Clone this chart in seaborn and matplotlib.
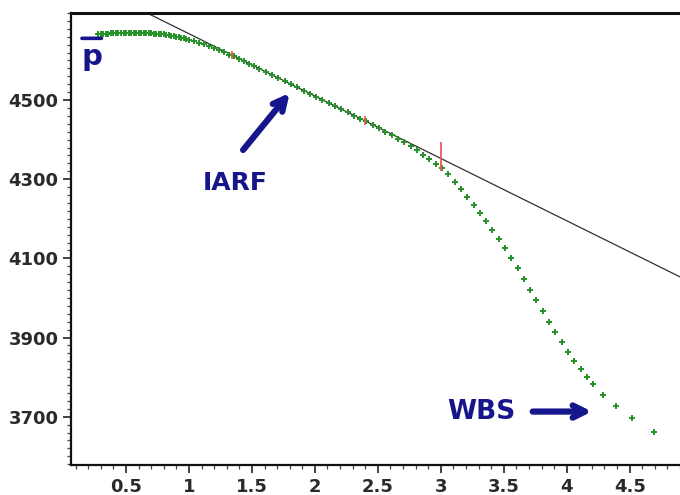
import matplotlib
matplotlib.use("Agg")
import matplotlib.pyplot as plt
from matplotlib.ticker import MultipleLocator, FixedLocator
import seaborn as sns
import pandas as pd

# ---- data ----
px = [0.28, 0.30, 0.32, 0.34, 0.36, 0.38, 0.40, 0.42, 0.44, 0.46, 0.48, 0.50,
      0.52, 0.54, 0.56, 0.58, 0.60, 0.62, 0.64, 0.66, 0.68, 0.70, 0.72, 0.74,
      0.76, 0.78, 0.80, 0.82, 0.84, 0.86, 0.88, 0.90, 0.92, 0.94, 0.96, 0.98,
      1.00, 1.04, 1.08, 1.12, 1.16, 1.20, 1.24, 1.28, 1.32, 1.36, 1.40, 1.44,
      1.48, 1.52, 1.56, 1.61, 1.66, 1.71, 1.76, 1.81, 1.86, 1.91, 1.96, 2.01,
      2.06, 2.11, 2.16, 2.21, 2.26, 2.31, 2.36, 2.41, 2.46, 2.51, 2.56, 2.61,
      2.66, 2.71, 2.76, 2.81, 2.86, 2.91, 2.96, 3.01, 3.06, 3.11, 3.16, 3.21,
      3.26, 3.31, 3.36, 3.41, 3.46, 3.51, 3.56, 3.61, 3.66, 3.71, 3.76, 3.81,
      3.86, 3.91, 3.96, 4.01, 4.06, 4.11, 4.16, 4.21, 4.29, 4.39, 4.52, 4.69]
py = [4666, 4667, 4667, 4668, 4668, 4669, 4669, 4669, 4670, 4670, 4670, 4670,
      4670, 4670, 4670, 4670, 4670, 4670, 4670, 4670, 4669, 4669, 4668, 4668,
      4667, 4667, 4666, 4665, 4664, 4663, 4662, 4660, 4659, 4658, 4656, 4655,
      4653, 4649, 4645, 4641, 4637, 4632, 4626, 4621, 4615, 4611, 4605, 4598,
      4592, 4586, 4579, 4571, 4564, 4556, 4548, 4540, 4532, 4524, 4516, 4508,
      4501, 4493, 4485, 4477, 4469, 4461, 4453, 4446, 4438, 4429, 4420, 4411,
      4402, 4393, 4383, 4373, 4362, 4351, 4339, 4328, 4312, 4294, 4275, 4256,
      4236, 4215, 4194, 4172, 4150, 4126, 4101, 4075, 4048, 4021, 3994, 3967,
      3940, 3914, 3888, 3864, 3841, 3820, 3800, 3783, 3756, 3726, 3697, 3662]

line_x = [0.60, 5.00]          # straight-line (IARF) fit
line_y = [4730.6, 4037.6]

red_x = [1.34, 2.40, 3.00]     # red marker segments
red_lo = [4603, 4437, 4322]
red_hi = [4625, 4459, 4395]

xticks = [0.5, 1, 1.5, 2, 2.5, 3, 3.5, 4, 4.5]
xticklabels = ["0.5", "1", "1.5", "2", "2.5", "3", "3.5", "4", "4.5"]
yticks = [3700, 3900, 4100, 4300, 4500]
yticklabels = ["3700", "3900", "4100", "4300", "4500"]

# ---- styling ----
sns.set_style("ticks")
plt.rcParams["font.family"] = ["DejaVu Sans"]

green = "#2a922a"
navy = "#16168c"
tickcol = "#2a2a2a"

fig = plt.figure(figsize=(6.8, 4.95), dpi=100)
ax = fig.add_axes([71 / 680, 30 / 495, 1 - 71 / 680, (482 - 30) / 495])

df = pd.DataFrame({"x": px, "y": py})
sns.lineplot(x=line_x, y=line_y, ax=ax, color="#303030", lw=0.9, zorder=2)
sns.scatterplot(data=df, x="x", y="y", ax=ax, marker="P", s=22,
                color=green, linewidth=0, zorder=3)
ax.vlines(red_x, red_lo, red_hi, color="#ee5a52", lw=1.3, zorder=4)

ax.set_xlim(0.063, 4.9)
ax.set_ylim(3578, 4720)
ax.set_xlabel("")
ax.set_ylabel("")

ax.xaxis.set_major_locator(FixedLocator(xticks))
ax.set_xticklabels(xticklabels)
ax.xaxis.set_minor_locator(MultipleLocator(0.1))
ax.yaxis.set_major_locator(FixedLocator(yticks))
ax.set_yticklabels(yticklabels)
ax.yaxis.set_minor_locator(MultipleLocator(20))

ax.tick_params(axis="both", which="major", direction="out", length=6,
               width=1.2, color="#222222", labelsize=13, labelcolor=tickcol,
               pad=3)
ax.tick_params(axis="both", which="minor", direction="out", length=3,
               width=0.9, color="#444444")
for lab in ax.get_xticklabels() + ax.get_yticklabels():
    lab.set_fontweight("bold")

for side in ["left", "bottom", "top"]:
    ax.spines[side].set_color("#111111")
    ax.spines[side].set_linewidth(1.6)
ax.spines["top"].set_linewidth(2.2)
ax.spines["right"].set_visible(False)

# ---- annotations ----
ax.text(0.228, 4608, "p", color=navy, fontsize=21, fontweight="bold",
        ha="center", va="center")
ax.annotate("", xy=(0.305, 4656), xytext=(0.150, 4656),
            arrowprops=dict(arrowstyle="-", lw=2.6, color=navy,
                            shrinkA=0, shrinkB=0))
ax.text(1.365, 4290, "IARF", color=navy, fontsize=18, fontweight="bold",
        ha="center", va="center")
ax.annotate("", xy=(1.80, 4518), xytext=(1.43, 4374),
            arrowprops=dict(arrowstyle="->", lw=4.5, color=navy,
                            mutation_scale=22, shrinkA=0, shrinkB=0))
ax.text(3.325, 3712, "WBS", color=navy, fontsize=19, fontweight="bold",
        ha="center", va="center")
ax.annotate("", xy=(4.20, 3713), xytext=(3.73, 3713),
            arrowprops=dict(arrowstyle="->", lw=4.5, color=navy,
                            mutation_scale=22, shrinkA=0, shrinkB=0))

fig.savefig("out.png", dpi=100)
